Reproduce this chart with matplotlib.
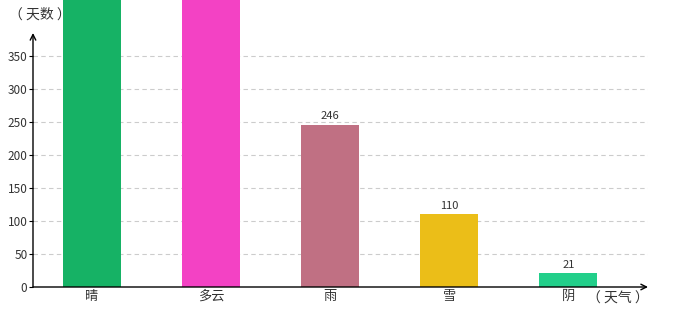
import matplotlib
matplotlib.use("Agg")
import matplotlib.pyplot as plt

plt.rcParams['font.family'] = ['Noto Sans CJK SC', 'DejaVu Sans']

categories = ['晴', '多云', '雨', '雪', '阴']
values = [520, 520, 246, 110, 21]
colors = ['#16b265', '#f342c4', '#c07083', '#ebbe18', '#22cf8a']
yticks = [0, 50, 100, 150, 200, 250, 300, 350]

fig = plt.figure(figsize=(6.8, 3.2), dpi=100)
L, R, B, T = 33/680, 648/680, 1 - 287/320, 1 - 33/320
ax = fig.add_axes([L, B, R - L, T - B])

YMAX = 385
x = list(range(len(categories)))
bars = ax.bar(x, values, width=0.49, color=colors, zorder=3, clip_on=False)
for xi, v in zip(x, values):
    if v < YMAX:
        ax.text(xi, v + 5, str(v), ha='center', va='bottom', fontsize=8,
                color='#333333', clip_on=False)

ax.set_xlim(-0.496, 4.67)
ax.set_ylim(0, YMAX)
ax.set_xticks(x)
ax.set_xticklabels(categories, fontsize=9.5, color='#333333')
ax.set_yticks(yticks)
ax.set_yticklabels([str(t) for t in yticks], fontsize=8.5, color='#333333')
ax.tick_params(axis='x', length=0, pad=2)
ax.tick_params(axis='y', length=3, pad=1, width=0.8)
for t in yticks[1:]:
    ax.axhline(t, color='#cccccc', linestyle=(0, (4, 3)), linewidth=0.8, zorder=1)

for s in ['top', 'right', 'left', 'bottom']:
    ax.spines[s].set_visible(False)

# axis lines with arrows
ax.annotate('', xy=(1.0, 0), xytext=(0, 0), xycoords='axes fraction',
            arrowprops=dict(arrowstyle='->', color='black', lw=1.0,
                            shrinkA=0, shrinkB=0), annotation_clip=False)
ax.annotate('', xy=(0, 1.0), xytext=(0, 0), xycoords='axes fraction',
            arrowprops=dict(arrowstyle='->', color='black', lw=1.0,
                            shrinkA=0, shrinkB=0), annotation_clip=False)

fig.text(40/680, 1 - 15/320, '（ 天数 ）', ha='center', va='center', fontsize=10, color='#333333')
fig.text(618/680, 1 - 299/320, '（ 天气 ）', ha='center', va='center', fontsize=10, color='#333333')

fig.savefig('out.png', dpi=100)
